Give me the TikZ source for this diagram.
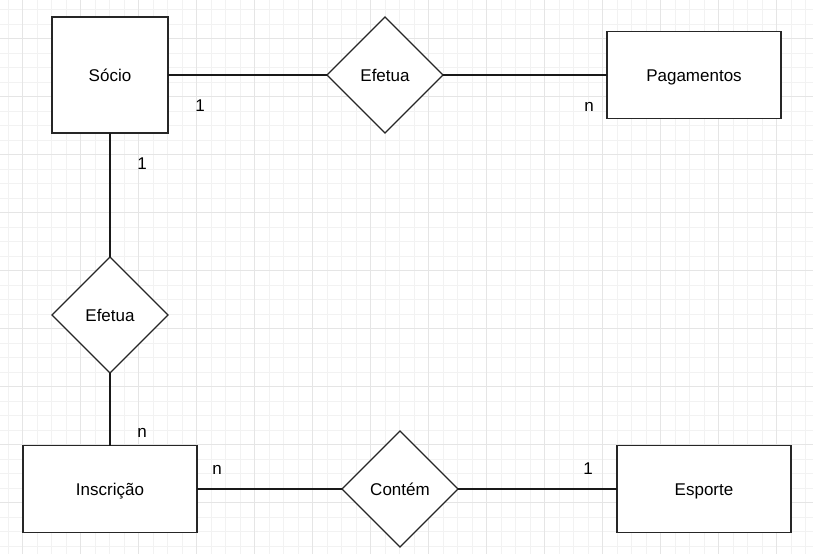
\documentclass[tikz,border=0pt]{standalone}
\usepackage{fontspec}
\setmainfont{Liberation Sans}
\usetikzlibrary{shapes.geometric}

\begin{document}
\begin{tikzpicture}[x=1pt, y=-1pt,
		label text/.style={font=\fontsize{17}{20}\selectfont, text height=12pt, text depth=0pt},
		entity/.style={draw=black!85, fill=white, line width=1.3pt, rectangle, inner sep=0pt, outer sep=0pt, label text},
		relation/.style={draw=black!85, fill=white, line width=1.3pt, diamond, inner sep=0pt, outer sep=0pt, minimum width=116pt, minimum height=116pt, label text},
		card/.style={inner sep=0pt, label text},
		link/.style={line width=1.3pt, color=black!90}]
		%%%%% START %%%%%
		
		\useasboundingbox (0, 0) rectangle (813, 554);
		\fill[white] (0, 0) rectangle (813, 554);
		
		% grid
		\foreach \gx in {8, 22.5, ..., 813} \draw[line width=0.7pt, color=black!5] (\gx, 0) -- (\gx, 554);
		\foreach \gy in {9.5, 24, ..., 554} \draw[line width=0.7pt, color=black!5] (0, \gy) -- (813, \gy);
		\foreach \gx in {22.5, 80.5, ..., 813} \draw[line width=0.8pt, color=black!10] (\gx, 0) -- (\gx, 554);
		\foreach \gy in {38.5, 96.5, ..., 554} \draw[line width=0.8pt, color=black!10] (0, \gy) -- (813, \gy);
		
		% entities
		\node[entity, minimum width=116pt, minimum height=116pt] (socio) at (110, 75) {Sócio};
		\node[entity, minimum width=174pt, minimum height=87pt] (pagamentos) at (694, 75) {Pagamentos};
		\node[entity, minimum width=174pt, minimum height=87pt] (inscricao) at (110, 489) {Inscrição};
		\node[entity, minimum width=174pt, minimum height=87pt] (esporte) at (704, 489) {Esporte};
		
		% relations
		\node[relation] (efetuaA) at (385, 75) {Efetua};
		\node[relation] (efetuaB) at (110, 315) {Efetua};
		\node[relation] (contem) at (400, 489) {Contém};
		
		% links
		\draw[link] (socio.east) -- (efetuaA.west);
		\draw[link] (efetuaA.east) -- (pagamentos.west);
		\draw[link] (socio.south) -- (efetuaB.north);
		\draw[link] (efetuaB.south) -- (inscricao.north);
		\draw[link] (inscricao.east) -- (contem.west);
		\draw[link] (contem.east) -- (esporte.west);
		
		% cardinalities
		\node[card] (cardA) at (200, 105) {1};
		\node[card] (cardB) at (589, 105) {n};
		\node[card] (cardC) at (142, 163) {1};
		\node[card] (cardD) at (142, 431) {n};
		\node[card] (cardE) at (217, 468) {n};
		\node[card] (cardF) at (588, 468) {1};
		
		%%%%% END %%%%%
	\end{tikzpicture}
\end{document}
